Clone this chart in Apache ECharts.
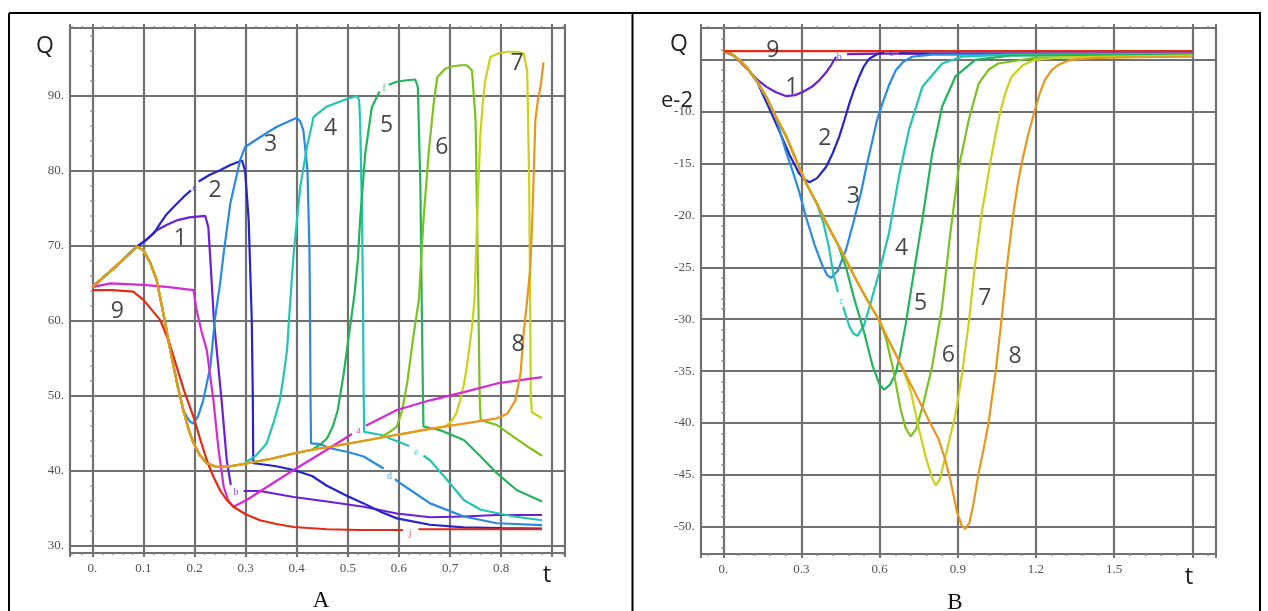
<!DOCTYPE html>
<html><head><meta charset="utf-8">
<script src="https://cdn.jsdelivr.net/npm/echarts@6/dist/echarts.min.js"></script>
<style>html,body{margin:0;padding:0;background:#fff}#c{width:1268px;height:611px}</style>
</head><body><div id="c"></div>
<script>
// ---------------- tick labels ----------------
const xTicksA = [0,0.1,0.2,0.3,0.4,0.5,0.6,0.7,0.8];
const xTickLabelsA = ['0.','0.1','0.2','0.3','0.4','0.5','0.6','0.7','0.8'];
const yTicksA = [30,40,50,60,70,80,90];
const yTickLabelsA = ['30.','40.','50.','60.','70.','80.','90.'];
const xTicksB = [0,0.3,0.6,0.9,1.2,1.5];
const xTickLabelsB = ['0.','0.3','0.6','0.9','1.2','1.5'];
const yTicksB = [-10,-15,-20,-25,-30,-35,-40,-45,-50];
const yTickLabelsB = ['-10.','-15.','-20.','-25.','-30.','-35.','-40.','-45.','-50.'];

// ---------------- Panel A (t, Q) ----------------
const A_base = [[0,64.5],[0.045,67.2],[0.087,69.9],[0.1,69.4],[0.113,67.8],[0.126,65.4],[0.139,61],[0.15,57],[0.159,53.9],[0.168,51],[0.178,48.1],[0.188,45.6],[0.198,43.7],[0.21,42.1],[0.224,41],[0.244,40.5],[0.27,40.6],[0.296,40.9],[0.35,41.6],[0.394,42.3],[0.43,42.8],[0.466,43.2],[0.524,43.9],[0.564,44.4],[0.596,44.8],[0.661,45.6],[0.727,46.3],[0.792,47],[0.812,47.6]];
const A1_s1 = [[0,64.5],[0.045,67.2],[0.087,69.9],[0.105,70.8],[0.126,72.1],[0.145,72.8],[0.165,73.4],[0.19,73.8],[0.221,74],[0.227,72.5],[0.232,67],[0.238,60],[0.245,55],[0.253,49.4],[0.263,41.4],[0.271,38.1]];
const A1_s2 = [[0.296,37.3],[0.328,37.3],[0.394,36.5],[0.459,35.9],[0.531,35.2],[0.596,34.3],[0.661,33.8],[0.727,33.9],[0.792,34.1],[0.88,34.1]];
const A2_s1 = [[0,64.5],[0.045,67.2],[0.087,69.9],[0.105,70.75],[0.12,71.65],[0.133,73],[0.145,74.2],[0.159,75.2],[0.178,76.5],[0.193,77.4]];
const A2_s2 = [[0.208,78.6],[0.23,79.5],[0.25,80.1],[0.27,80.8],[0.293,81.4],[0.299,80],[0.306,73.4],[0.312,60.1],[0.314,50],[0.315,41],[0.328,40.9],[0.36,40.6],[0.394,40.1],[0.43,39.3],[0.459,38],[0.5,36.6],[0.531,35.65],[0.565,34.5],[0.596,33.65],[0.661,32.8],[0.727,32.45],[0.8,32.35],[0.88,32.3]];
const A3_branch = 0.178;
const A3_s1 = [[0.185,47.2],[0.192,46.5],[0.198,46.3],[0.207,47.3],[0.217,49.4],[0.231,53.9],[0.24,60.3],[0.25,65],[0.257,69],[0.27,75.65],[0.289,81.4],[0.299,83.2],[0.328,84.5],[0.361,85.9],[0.4,87.1],[0.407,86.6],[0.413,85.4],[0.421,80.1],[0.425,69],[0.426,60.1],[0.427,50],[0.428,43.65],[0.446,43.55],[0.466,43],[0.5,42.5],[0.531,41.9],[0.57,40.3]];
const A3_s2 = [[0.592,38.9],[0.61,38],[0.661,35.65],[0.727,33.9],[0.792,33],[0.88,32.75]];
const A4_branch = 0.296;
const A4_s1 = [[0.302,41.2],[0.32,42],[0.341,43.65],[0.355,46.5],[0.367,49.4],[0.375,53],[0.381,56.1],[0.387,62.3],[0.394,69],[0.407,77.9],[0.42,83.2],[0.433,87.2],[0.459,88.6],[0.498,89.6],[0.518,90],[0.522,89.5],[0.524,86.8],[0.528,73.4],[0.53,60.1],[0.531,50],[0.532,45.2],[0.564,44.8],[0.62,43.3]];
const A4_s2 = [[0.648,42],[0.661,41.4],[0.694,38.8],[0.727,36.1],[0.76,34.8],[0.825,33.9],[0.88,33.4]];
const A5_branch = 0.43;
const A5_s1 = [[0.446,43.5],[0.459,44.3],[0.47,45.8],[0.48,48],[0.492,53],[0.503,58.5],[0.513,63.5],[0.52,68.5],[0.524,73.4],[0.534,82.3],[0.547,88.5],[0.562,90.6]];
const A5_s2 = [[0.58,91.5],[0.596,91.9],[0.615,92.1],[0.632,92.2],[0.637,91.2],[0.642,77.9],[0.645,60.1],[0.647,50],[0.648,45.9],[0.681,45.4],[0.727,44.1],[0.76,41.9],[0.792,39.65],[0.831,37.4],[0.88,35.9]];
const A6_branch = 0.564;
const A6_own = [[0.58,45.1],[0.596,45.9],[0.606,48],[0.616,51.65],[0.629,58.3],[0.639,62.8],[0.648,73.4],[0.658,82.3],[0.668,89],[0.675,92.5],[0.69,93.6],[0.701,93.9],[0.72,94.1],[0.733,94.1],[0.743,93.4],[0.75,86.75],[0.753,73.4],[0.756,60.1],[0.758,50],[0.76,46.75],[0.792,46.1],[0.825,44.5],[0.857,43],[0.88,42]];
const A7_branch = 0.661;
const A7_own = [[0.69,45.9],[0.701,46.5],[0.712,47.6],[0.72,49.4],[0.727,51.5],[0.733,53.9],[0.743,59.2],[0.748,62.8],[0.753,73.4],[0.759,84.5],[0.764,89],[0.769,92.1],[0.779,95.2],[0.795,95.7],[0.812,95.9],[0.83,95.9],[0.844,95.65],[0.851,93.4],[0.853,86],[0.855,77.9],[0.857,60.1],[0.858,50],[0.86,47.8],[0.88,47]];
const A8_own = [[0.828,49.4],[0.838,53],[0.844,58.3],[0.851,62.8],[0.857,67],[0.861,73.4],[0.864,80],[0.867,86.8],[0.872,89.5],[0.877,91.2],[0.883,94.5]];
const A9_s1 = [[0,64.1],[0.04,64.1],[0.08,63.9],[0.1,62.8],[0.133,60.1],[0.15,57.2],[0.165,53.9],[0.18,50.6],[0.198,47.2],[0.212,44],[0.224,41.4],[0.237,39.2],[0.25,37.4],[0.263,36.1],[0.276,35.2],[0.3,34.2],[0.328,33.4],[0.36,32.9],[0.394,32.5],[0.459,32.2],[0.524,32.1],[0.608,32.1]];
const A9_s2 = [[0.638,32.2],[0.7,32.2],[0.8,32.2],[0.88,32.2]];
const AM_s1 = [[0,64.5],[0.035,65],[0.1,64.8],[0.15,64.5],[0.198,64.1],[0.204,61.4],[0.214,58.5],[0.224,56.1],[0.237,49.4],[0.247,42.8],[0.257,37.9],[0.266,36],[0.276,35.2],[0.302,36.1],[0.35,38.2],[0.394,40.1],[0.459,42.8],[0.508,44.9]];
const AM_s2 = [[0.535,46],[0.596,48.1],[0.661,49.4],[0.727,50.5],[0.792,51.65],[0.88,52.5]];

const numLabelsA = ['1','2','3','4','5','6','7','8','9'];
const numPosA = [[0.172,71.05],[0.240,77.4],[0.349,83.6],[0.466,85.7],[0.576,86.1],[0.684,83.2],[0.831,94.4],[0.833,56.8],[0.049,61.2]];
const tagLettersA = ['c','b','a','d','e','f','j'];
const tagPosA = [[0.1997,77.7],[0.2813,37.07],[0.521,45.44],[0.5815,39.2],[0.634,42.46],[0.571,91.0],[0.622,31.65]];
const tagCurveA = ['2','1','m','3','4','5','9'];

// ---------------- Panel B (t, Q in e-2) ----------------
const B_base = [[0,-4.2],[0.03,-4.4],[0.06,-5],[0.089,-5.7],[0.13,-7.1],[0.166,-8.6],[0.2,-10.4],[0.242,-12.4],[0.28,-14.7],[0.318,-16.9],[0.36,-18.9],[0.395,-20.7],[0.44,-22.8],[0.471,-24.3],[0.51,-26.2],[0.547,-27.9],[0.598,-30.1],[0.63,-31.8],[0.668,-33.7],[0.72,-36.3],[0.76,-38.3],[0.8,-40.3],[0.827,-41.6]];
const B1_s1 = [[0,-4.2],[0.04,-4.6],[0.089,-5.8],[0.13,-6.9],[0.166,-7.6],[0.2,-8.1],[0.242,-8.5],[0.275,-8.4],[0.305,-8.1],[0.34,-7.6],[0.369,-6.95],[0.395,-6.2],[0.414,-5.5],[0.433,-4.7]];
const B1_s2 = [[0.475,-4.45],[0.6,-4.4],[1.8,-4.4]];
const B2_branch = 0.13;
const B2_s1 = [[0.153,-8.4],[0.2,-11.0],[0.255,-14.2],[0.29,-15.9],[0.31,-16.5],[0.331,-16.8],[0.36,-16.4],[0.395,-15.3],[0.42,-14],[0.445,-12.4],[0.465,-10.8],[0.484,-9.2],[0.5,-8],[0.522,-6.6],[0.54,-5.6],[0.56,-4.9],[0.598,-4.35],[0.618,-4.33]];
const B2_s2 = [[0.675,-4.35],[0.8,-4.4],[1.8,-4.4]];
const B3_branch = 0.2;
const B3_own = [[0.24,-13.8],[0.267,-15.8],[0.29,-17.6],[0.318,-20.2],[0.35,-22.8],[0.38,-24.8],[0.4,-25.8],[0.414,-26],[0.44,-25.3],[0.471,-23.3],[0.5,-20.6],[0.528,-17.85],[0.55,-15.2],[0.573,-12.7],[0.59,-10.8],[0.611,-9.2],[0.635,-7.5],[0.662,-6.0],[0.69,-5.2],[0.725,-4.7],[0.8,-4.5],[1.8,-4.45]];
const B4_branch = 0.36;
const B4_s1 = [[0.385,-20.8],[0.405,-23],[0.422,-25.6],[0.44,-27.4]];
const B4_s2 = [[0.46,-28.8],[0.484,-30.7],[0.5,-31.4],[0.515,-31.6],[0.54,-30.6],[0.566,-28.4],[0.598,-25.5],[0.636,-21.7],[0.674,-16.25],[0.712,-11.8],[0.764,-7.6],[0.84,-5.35],[0.916,-4.7],[1.1,-4.5],[1.8,-4.45]];
const B5_branch = 0.44;
const B5_own = [[0.471,-25],[0.5,-27.8],[0.541,-31.3],[0.573,-34.5],[0.6,-36.3],[0.617,-36.8],[0.64,-36.3],[0.662,-35.2],[0.68,-33.2],[0.7,-30.5],[0.725,-26.5],[0.764,-20.4],[0.802,-14],[0.84,-9.5],[0.891,-6.6],[0.967,-5.0],[1.1,-4.6],[1.8,-4.5]];
const B6_branch = 0.598;
const B6_own = [[0.624,-31.8],[0.649,-34.5],[0.681,-38.7],[0.7,-40.5],[0.719,-41.3],[0.74,-40.6],[0.764,-38.5],[0.802,-34.5],[0.84,-28.75],[0.87,-22],[0.903,-15.5],[0.942,-10.8],[0.98,-7.3],[1.02,-5.9],[1.056,-5.35],[1.196,-4.8],[1.8,-4.6]];
const B7_branch = 0.668;
const B7_own = [[0.7,-35.5],[0.72,-37],[0.751,-40.6],[0.776,-43.2],[0.8,-45.2],[0.815,-46],[0.83,-45.5],[0.85,-43.5],[0.87,-41.4],[0.891,-39.2],[0.915,-35.5],[0.942,-30.4],[0.965,-25],[0.992,-19.8],[1.024,-15],[1.045,-12.2],[1.063,-10],[1.085,-8],[1.107,-6.6],[1.15,-5.5],[1.196,-5.0],[1.3,-4.75],[1.8,-4.6]];
const B8_own = [[0.85,-43.4],[0.87,-45.3],[0.897,-48.6],[0.915,-49.9],[0.929,-50.2],[0.945,-49.6],[0.96,-47.8],[0.98,-44.8],[1.0,-42.4],[1.018,-40],[1.046,-34.9],[1.069,-29.8],[1.09,-24.6],[1.113,-19.8],[1.13,-17],[1.145,-15],[1.17,-12.2],[1.194,-10],[1.215,-8.2],[1.234,-6.95],[1.26,-6],[1.285,-5.5],[1.32,-5.1],[1.35,-4.95],[1.45,-4.8],[1.6,-4.75],[1.8,-4.7]];
const B9 = [[0,-4.16],[1.8,-4.16]];

const numLabelsB = ['9','1','2','3','4','5','6','7','8'];
const numPosB = [[0.19,-4.10],[0.263,-7.62],[0.390,-12.6],[0.499,-18.2],[0.684,-23.2],[0.757,-28.5],[0.864,-33.45],[1.004,-28.0],[1.120,-33.6]];
const tagLettersB = ['b','c','c'];
const tagPosB = [[0.445,-4.8],[0.646,-4.37],[0.454,-28.3]];
const tagCurveB = ['1','2','4'];

// ---------------- styling ----------------
const palette = {'1':'#6b1fd6','2':'#2424cc','3':'#2a8ae0','4':'#22c4b4','5':'#22b45a','6':'#7cc21e','7':'#c8d21a','8':'#e8961e','9':'#e42a12','m':'#d42ad4'};
const GRID = '#707070';

function upTo(path, tEnd){ return path.filter(p => p[0] <= tEnd + 1e-9); }

function fmt(ticks, labels){
  return function(v){
    for (let i=0;i<ticks.length;i++){ if (Math.abs(v-ticks[i])<1e-6) return labels[i]; }
    return '';
  };
}

function axis(dim, pos, gridIndex, min, max, step, labels, ticks, showLabel){
  return {
    type:'value', gridIndex, position:pos, min, max, minInterval:step, maxInterval:step, splitNumber:10,
    axisLine:{show:false},
    axisTick:{show:true, inside:false, length:4, lineStyle:{color:GRID, width:2}},
    minorTick:{show:true, splitNumber:5, length:2, lineStyle:{color:'#8c8c8c', width:1.5}},
    splitLine:{show: showLabel, lineStyle:{color:GRID, width:2.2}},
    minorSplitLine:{show:false},
    axisLabel:{show: showLabel, formatter: fmt(ticks, labels), fontFamily:'"Liberation Serif", serif', fontSize:13, color:'#505050', margin: dim==='x'?9:6, showMinLabel:true, showMaxLabel:true, hideOverlap:false},
    splitArea:{show:false}
  };
}

const series = [];
function ln(data, key, xi, yi, z){
  series.push({type:'line', data, xAxisIndex:xi, yAxisIndex:yi, symbol:'none', showSymbol:false, silent:true, animation:false, clip:false, smooth:false, lineStyle:{color:palette[key], width:2.2}, z: z||3});
}
// Panel A
ln(A1_s1,'1',0,0); ln(A1_s2,'1',0,0);
ln(A2_s1,'2',0,0); ln(A2_s2,'2',0,0);
ln(upTo(A_base,A3_branch).concat(A3_s1),'3',0,0); ln(A3_s2,'3',0,0);
ln(upTo(A_base,A4_branch).concat(A4_s1),'4',0,0); ln(A4_s2,'4',0,0);
ln(upTo(A_base,A5_branch).concat(A5_s1),'5',0,0); ln(A5_s2,'5',0,0);
ln(upTo(A_base,A6_branch).concat(A6_own),'6',0,0);
ln(upTo(A_base,A7_branch).concat(A7_own),'7',0,0);
ln(AM_s1,'m',0,0); ln(AM_s2,'m',0,0);
ln(A9_s1,'9',0,0); ln(A9_s2,'9',0,0);
ln(A_base.concat(A8_own),'8',0,0,4);
// Panel B
ln(B1_s1,'1',2,2); ln(B1_s2,'1',2,2);
ln(upTo(B_base,B2_branch).concat(B2_s1),'2',2,2); ln(B2_s2,'2',2,2);
ln(upTo(B_base,B3_branch).concat(B3_own),'3',2,2);
ln(upTo(B_base,B4_branch).concat(B4_s1),'4',2,2); ln(B4_s2,'4',2,2);
ln(upTo(B_base,B5_branch).concat(B5_own),'5',2,2);
ln(upTo(B_base,B6_branch).concat(B6_own),'6',2,2);
ln(upTo(B_base,B7_branch).concat(B7_own),'7',2,2);
ln(B_base.concat(B8_own),'8',2,2,4);
ln(B9,'9',2,2,5);

function textSeries(pos, texts, xi, yi, colorOf, size, family){
  series.push({type:'scatter', xAxisIndex:xi, yAxisIndex:yi, symbolSize:0, silent:true, animation:false, z:6,
    data: pos.map((p,i)=>({value:p, label:{show:true, position:'inside', formatter: texts[i], color: colorOf(i), fontSize:size, fontFamily:family}}))});
}
textSeries(numPosA, numLabelsA, 0, 0, ()=>'#151515', 23, '"Open Sans", sans-serif');
textSeries(numPosB, numLabelsB, 2, 2, ()=>'#151515', 23, '"Open Sans", sans-serif');
textSeries(tagPosA, tagLettersA, 0, 0, i=>palette[tagCurveA[i]], 10, '"Liberation Serif", serif');
textSeries(tagPosB, tagLettersB, 2, 2, i=>palette[tagCurveB[i]], 10, '"Liberation Serif", serif');

const chart = echarts.init(document.getElementById('c'), null, {renderer:'canvas'});
const font = '"Open Sans", sans-serif';
chart.setOption({
  backgroundColor:'#ffffff',
  animation:false,
  grid:[
    {left:70, top:28, width:495, height:525, containLabel:false, outerBoundsMode:'none'},
    {left:700.7, top:28, width:515.3, height:526, containLabel:false, outerBoundsMode:'none'}
  ],
  xAxis:[
    axis('x','bottom',0,-0.0437,0.925,0.1,xTickLabelsA,xTicksA,true),
    axis('x','top',0,-0.0437,0.925,0.1,xTickLabelsA,xTicksA,false),
    axis('x','bottom',1,-0.0867,1.891,0.3,xTickLabelsB,xTicksB,true),
    axis('x','top',1,-0.0867,1.891,0.3,xTickLabelsB,xTicksB,false)
  ],
  yAxis:[
    axis('y','left',0,29.03,99.07,10,yTickLabelsA,yTicksA,true),
    axis('y','right',0,29.03,99.07,10,yTickLabelsA,yTicksA,false),
    axis('y','left',1,-52.63,-1.93,5,yTickLabelsB,yTicksB,true),
    axis('y','right',1,-52.63,-1.93,5,yTickLabelsB,yTicksB,false)
  ],
  series,
  graphic:[
    {type:'line', shape:{x1:9,y1:13,x2:1261,y2:13}, style:{stroke:'#000',lineWidth:2}},
    {type:'line', shape:{x1:9,y1:13,x2:9,y2:611}, style:{stroke:'#000',lineWidth:2}},
    {type:'line', shape:{x1:632.5,y1:13,x2:632.5,y2:611}, style:{stroke:'#000',lineWidth:2}},
    {type:'line', shape:{x1:1260,y1:13,x2:1260,y2:611}, style:{stroke:'#000',lineWidth:2}},
    {type:'text', x:45, y:46, style:{text:'Q', font:'23px '+font, fill:'#222', align:'center', verticalAlign:'middle'}},
    {type:'text', x:679, y:44, style:{text:'Q', font:'23px '+font, fill:'#222', align:'center', verticalAlign:'middle'}},
    {type:'text', x:677, y:101, style:{text:'e-2', font:'22px '+font, fill:'#222', align:'center', verticalAlign:'middle'}},
    {type:'text', x:547, y:575, style:{text:'t', font:'24px '+font, fill:'#222', align:'center', verticalAlign:'middle'}},
    {type:'text', x:1189, y:577, style:{text:'t', font:'24px '+font, fill:'#222', align:'center', verticalAlign:'middle'}},
    {type:'text', x:321, y:601, style:{text:'A', font:'23px "Liberation Serif", serif', fill:'#111', align:'center', verticalAlign:'middle'}},
    {type:'text', x:955, y:603, style:{text:'B', font:'23px "Liberation Serif", serif', fill:'#111', align:'center', verticalAlign:'middle'}}
  ]
});
</script></body></html>
